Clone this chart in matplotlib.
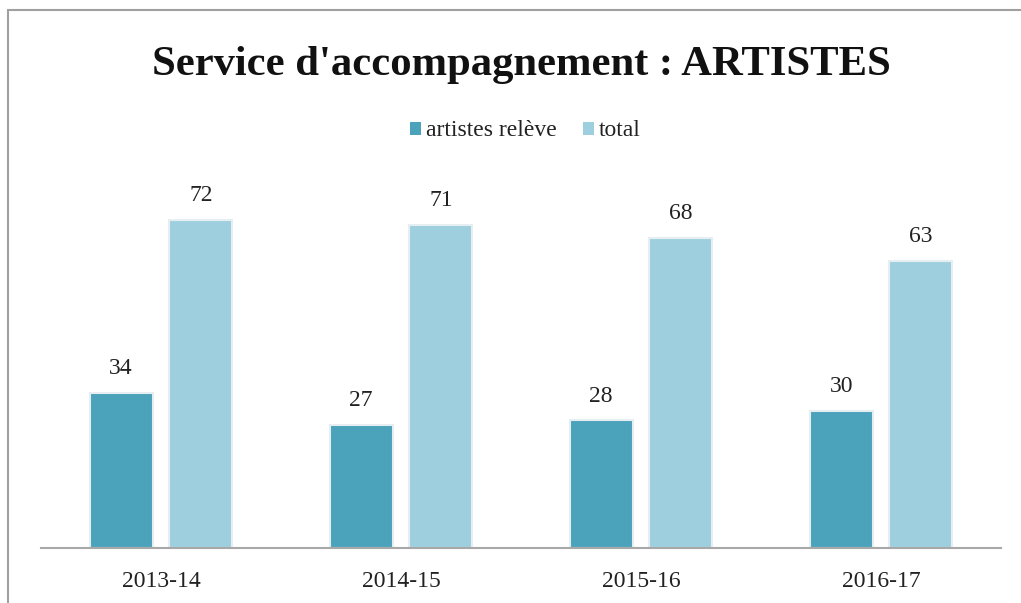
import matplotlib
matplotlib.use("Agg")
import matplotlib.pyplot as plt
from matplotlib.patches import Rectangle
import numpy as np

categories = ["2013-14", "2014-15", "2015-16", "2016-17"]
releve = [34, 27, 28, 30]
total = [72, 71, 68, 63]
series_names = ["artistes relève", "total"]

W, H = 1021, 603
fig = plt.figure(figsize=(W/100, H/100), dpi=100)
plt.rcParams['font.family'] = ['Liberation Serif', 'DejaVu Serif']

# outer border
fig.patches.append(Rectangle((8/W, -0.2), 1.2, 1.2 - 10/H, transform=fig.transFigure,
                             fill=False, edgecolor='#a0a0a0', linewidth=1.5))

ax_left, ax_right = 41, 1001
ax_bottom, ax_top = 548, 183.5
ax = fig.add_axes([ax_left/W, 1 - ax_bottom/H, (ax_right-ax_left)/W, (ax_bottom-ax_top)/H])

x = np.arange(len(categories))
bw = 0.262
off = 0.166
c1, c2 = '#4aa2bb', '#9ecfdf'
b1 = ax.bar(x - off, releve, bw, color=c1, edgecolor='#e6eef1', linewidth=1.5, label=series_names[0])
b2 = ax.bar(x + off, total, bw, color=c2, edgecolor='#e6eef1', linewidth=1.5, label=series_names[1])

for bars, vals in ((b1, releve), (b2, total)):
    for r, v in zip(bars, vals):
        ax.annotate(str(v), (r.get_x() + r.get_width()/2, v), xytext=(0, 10),
                    textcoords='offset points', ha='center', va='bottom', fontsize=17, color='#222222')

ax.set_xlim(-0.5, 3.5)
ax.set_ylim(0, 80)
ax.set_yticks([])
ax.set_xticks(x)
ax.set_xticklabels(categories, fontsize=17, color='#222222')
ax.tick_params(axis='x', length=0, pad=16.5)
for s in ['top', 'right', 'left']:
    ax.spines[s].set_visible(False)
ax.spines['bottom'].set_color('#a8a8a8')
ax.spines['bottom'].set_linewidth(1.5)

fig.text(521.5/W, 1 - 65/H, "Service d'accompagnement : ARTISTES", ha='center', va='center',
         fontsize=30.7, fontweight='bold', color='#111111')

leg = fig.legend(handles=[b1, b2], labels=series_names, loc='center', bbox_to_anchor=(525.5/W, 1 - 131/H),
                 ncol=2, frameon=False, fontsize=17, handlelength=0.47, handleheight=0.47,
                 handletextpad=0.2, columnspacing=1.1, borderpad=0.2)
for t in leg.get_texts():
    t.set_color('#222222')
for h in leg.legend_handles:
    h.set_edgecolor('none')

fig.savefig("out.png", dpi=100)
